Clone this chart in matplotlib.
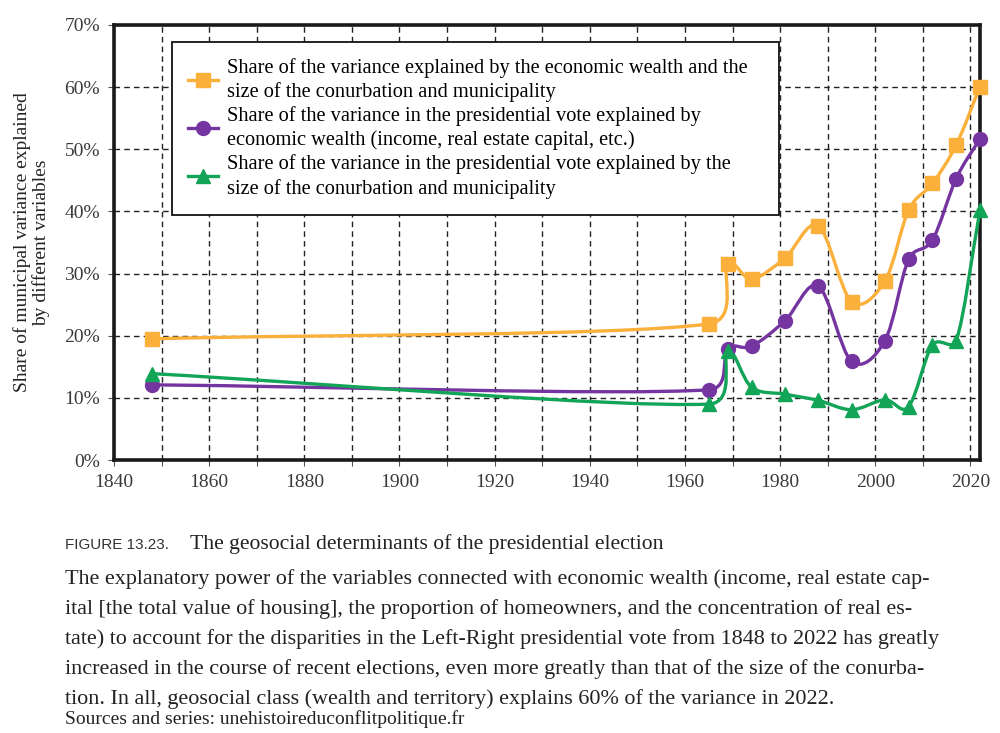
import numpy as np
import matplotlib
matplotlib.use("Agg")
import matplotlib.pyplot as plt
from matplotlib.path import Path
from matplotlib.patches import PathPatch
from matplotlib.lines import Line2D

# ==============================================
# data
years = [1848, 1965, 1969, 1974, 1981, 1988, 1995, 2002, 2007, 2012, 2017, 2022]
wealth_and_size = [19.5, 21.9, 31.5, 29.1, 32.5, 37.7, 25.5, 28.8, 40.2, 44.5, 50.7, 60.1]
wealth_only = [12.1, 11.3, 17.9, 18.3, 22.4, 28.0, 15.9, 19.2, 32.3, 35.4, 45.3, 51.7]
size_only = [13.9, 9.0, 17.6, 11.7, 10.6, 9.6, 8.1, 9.7, 8.6, 18.5, 19.2, 40.2]

labels = ["Share of the variance explained by the economic wealth and the\nsize of the conurbation and municipality",
          "Share of the variance in the presidential vote explained by\neconomic wealth (income, real estate capital, etc.)",
          "Share of the variance in the presidential vote explained by the\nsize of the conurbation and municipality"]
colors = ["#FBB03B", "#7535A0", "#12A457"]
markers = ["s", "o", "^"]

caption_title = "The geosocial determinants of the presidential election"
caption_lines = ["The explanatory power of the variables connected with economic wealth (income, real estate cap-",
                 "ital [the total value of housing], the proportion of homeowners, and the concentration of real es-",
                 "tate) to account for the disparities in the Left-Right presidential vote from 1848 to 2022 has greatly",
                 "increased in the course of recent elections, even more greatly than that of the size of the conurba-",
                 "tion. In all, geosocial class (wealth and territory) explains 60% of the variance in 2022."]
source = "Sources and series: unehistoireduconflitpolitique.fr"

SERIF = "Liberation Serif"

# ========================================================================
def smooth_path(ax, xs, ys):
    # excel-like smoothed line, built in display space then mapped back to data
    P = ax.transData.transform(np.column_stack([xs, ys]))
    n = len(P)
    T = np.zeros_like(P)
    for i in range(n):
        if i == 0:
            T[i] = P[1] - P[0]
        elif i == n - 1:
            T[i] = P[-1] - P[-2]
        else:
            T[i] = (P[i + 1] - P[i - 1]) / 2.0
    verts = [P[0]]
    codes = [Path.MOVETO]
    for i in range(n - 1):
        L = np.hypot(*(P[i + 1] - P[i]))
        h1 = min(np.hypot(*T[i]) / 3.0, 0.5 * L)
        h2 = min(np.hypot(*T[i + 1]) / 3.0, 0.5 * L)
        u1 = T[i] / max(np.hypot(*T[i]), 1e-9)
        u2 = T[i + 1] / max(np.hypot(*T[i + 1]), 1e-9)
        verts += [P[i] + u1 * h1, P[i + 1] - u2 * h2, P[i + 1]]
        codes += [Path.CURVE4] * 3
    verts = ax.transData.inverted().transform(np.array(verts))
    return Path(verts, codes)


fig = plt.figure(figsize=(10, 7.33), dpi=100)
ax = fig.add_axes([0.114, 0.3724, 0.866, 0.5935])
ax.set_xlim(1840, 2022)
ax.set_ylim(0, 70)

ax.set_xticks(range(1840, 2021, 20))
ax.set_xticks(range(1850, 2021, 10), minor=True)
ax.set_yticks(range(0, 71, 10))
ax.set_yticklabels(["%d%%" % v for v in range(0, 71, 10)])
ax.grid(True, which="both", axis="x", color="#222222", linestyle=(0, (4, 3)), linewidth=1.0)
ax.grid(True, which="major", axis="y", color="#222222", linestyle=(0, (4, 3)), linewidth=1.0)
ax.set_axisbelow(True)

for sp in ax.spines.values():
    sp.set_linewidth(2.6)
    sp.set_color("#1a1a1a")
ax.tick_params(which="both", direction="out", length=4, width=0.8, color="#555555")
ax.tick_params(axis="both", labelsize=14, labelcolor="#3a3a3a", pad=6)
for lab in ax.get_xticklabels() + ax.get_yticklabels():
    lab.set_family(SERIF)

ax.set_ylabel("Share of municipal variance explained\nby different variables",
              family=SERIF, fontsize=14, color="#222222", labelpad=10, linespacing=1.15)

series = [wealth_and_size, wealth_only, size_only]
handles = []
for vals, c, m, lab in zip(series, colors, markers, labels):
    path = smooth_path(ax, years, vals)
    ax.add_patch(PathPatch(path, facecolor="none", edgecolor=c, linewidth=2.4,
                           zorder=3, clip_on=False))
    ax.plot(years, vals, linestyle="none", marker=m, markersize=10 if m != "^" else 10.5,
            color=c, zorder=4, clip_on=False)
    handles.append(Line2D([], [], color=c, linewidth=2.4, marker=m, markersize=10, label=lab))

leg = ax.legend(handles=handles, loc="upper left", bbox_to_anchor=(0.067, 0.572, 0.701, 0.39),
                mode="expand", prop={"family": SERIF, "size": 14.7}, frameon=True, fancybox=False,
                framealpha=1, edgecolor="#111111", labelspacing=0.2,
                handlelength=1.45, handletextpad=0.45, borderpad=0.8, borderaxespad=0)
leg.get_frame().set_linewidth(1.3)
leg.set_zorder(5)
for t in leg.get_texts():
    t.set_linespacing(1.3)

# caption below the chart
fig.text(0.065, 1 - 545 / 733, "FIGURE 13.23.", family="Liberation Sans", fontsize=11,
         color="#333333", va="center")
fig.text(0.190, 1 - 544 / 733, caption_title, family=SERIF, fontsize=15.6,
         color="#222222", va="center")
for k, line in enumerate(caption_lines):
    fig.text(0.065, 1 - (579 + 30 * k) / 733, line, family=SERIF, fontsize=15.9,
             color="#222222", va="center")
fig.text(0.065, 1 - 719 / 733, source, family=SERIF, fontsize=14,
         color="#222222", va="center")

fig.savefig("out.png", dpi=100)
